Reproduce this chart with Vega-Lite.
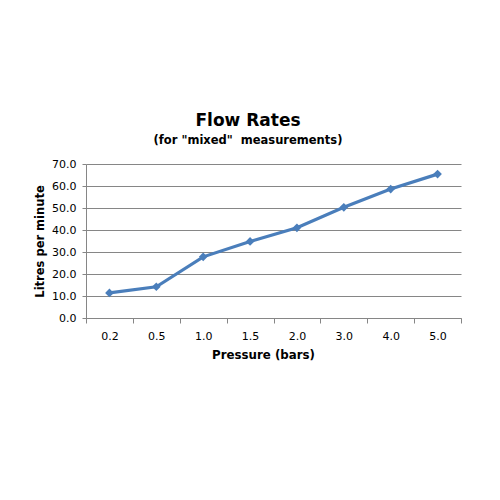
{
  "$schema": "https://vega.github.io/schema/vega-lite/v6.json",
  "width": 375,
  "height": 154,
  "padding": {"left": 34, "top": 111, "right": 10, "bottom": 10},
  "background": "white",
  "title": {
    "text": "Flow Rates",
    "subtitle": "(for \"mixed\"\u00a0 measurements)",
    "anchor": "middle",
    "frame": "bounds",
    "font": "DejaVu Sans",
    "fontSize": 17,
    "fontWeight": "bold",
    "color": "#000000",
    "subtitleFont": "DejaVu Sans",
    "subtitleFontSize": 11.5,
    "subtitleFontWeight": "bold",
    "subtitleColor": "#000000",
    "subtitlePadding": 5,
    "offset": 11
  },
  "data": {
    "values": [
      {"pressure": "0.2", "litres": 11.4},
      {"pressure": "0.5", "litres": 14.2},
      {"pressure": "1.0", "litres": 27.8},
      {"pressure": "1.5", "litres": 34.8},
      {"pressure": "2.0", "litres": 41.0},
      {"pressure": "3.0", "litres": 50.3},
      {"pressure": "4.0", "litres": 58.6},
      {"pressure": "5.0", "litres": 65.4}
    ]
  },
  "mark": {
    "type": "line",
    "color": "#4A7EBB",
    "strokeWidth": 3.2,
    "point": {"shape": "diamond", "size": 75, "filled": true, "color": "#4A7EBB"}
  },
  "encoding": {
    "x": {
      "field": "pressure",
      "type": "nominal",
      "sort": null,
      "scale": {"paddingInner": 0, "paddingOuter": 0},
      "axis": {
        "title": "Pressure (bars)",
        "labelAngle": 0,
        "tickBand": "extent",
        "tickSize": 5,
        "tickColor": "#868686",
        "domainColor": "#868686",
        "grid": false,
        "labelFont": "DejaVu Sans",
        "labelFontSize": 11,
        "labelColor": "#000000",
        "labelPadding": 7,
        "titleFont": "DejaVu Sans",
        "titleFontSize": 11.8,
        "titleFontWeight": "bold",
        "titleColor": "#000000",
        "titlePadding": 8,
        "titleX": 177
      }
    },
    "y": {
      "field": "litres",
      "type": "quantitative",
      "scale": {"domain": [0, 70], "nice": false},
      "axis": {
        "title": "Litres per minute",
        "values": [0, 10, 20, 30, 40, 50, 60, 70],
        "format": ".1f",
        "tickSize": 4,
        "tickColor": "#868686",
        "domainColor": "#868686",
        "grid": true,
        "gridColor": "#868686",
        "gridOpacity": 1,
        "labelFont": "DejaVu Sans",
        "labelFontSize": 11,
        "labelColor": "#000000",
        "labelPadding": 6,
        "titleFont": "DejaVu Sans",
        "titleFontSize": 11.5,
        "titleFontWeight": "bold",
        "titleColor": "#000000",
        "titlePadding": 6
      }
    }
  },
  "config": {"view": {"stroke": null}}
}
